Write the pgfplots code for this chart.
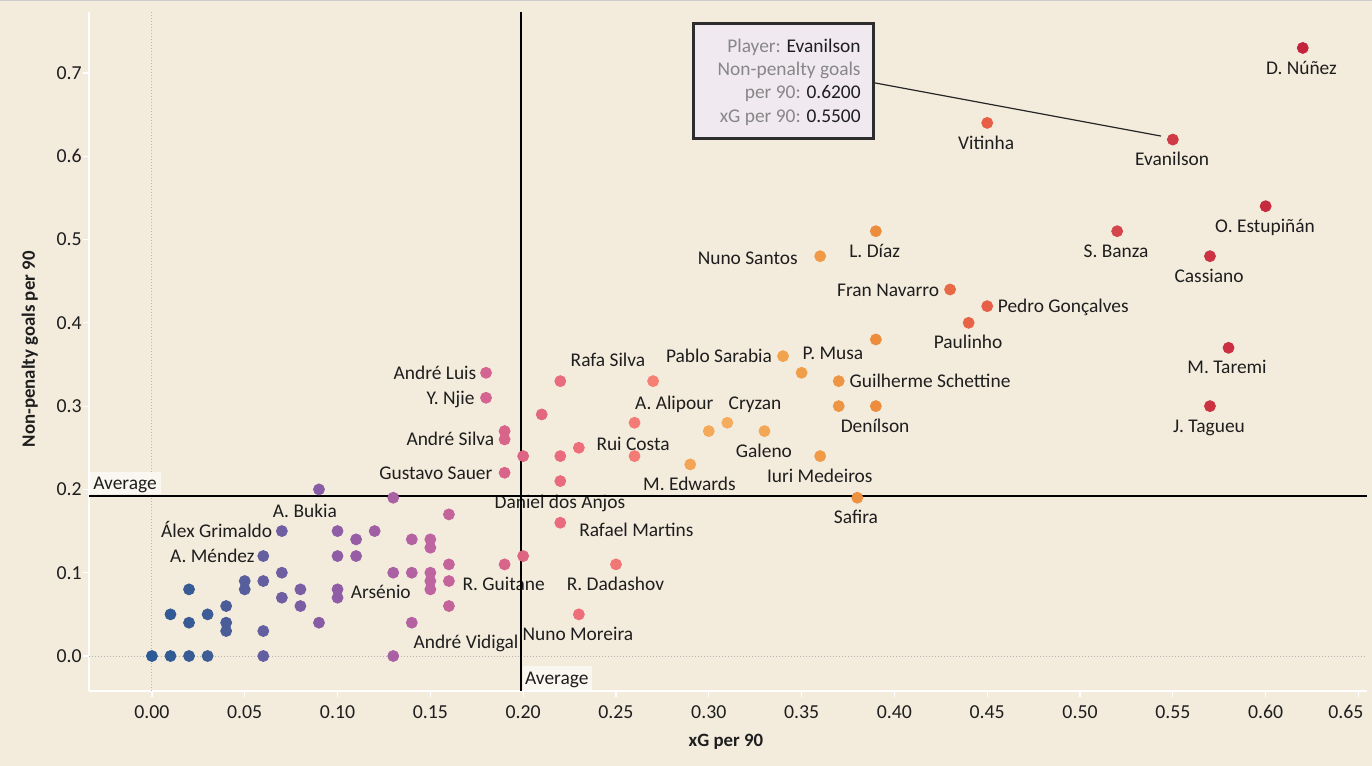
\documentclass[border=0pt]{standalone}
\usepackage{pgfplots}
\pgfplotsset{compat=1.18}
\usepackage{fontspec}
\setmainfont{Carlito}
\definecolor{bg}{RGB}{243,236,221}
\definecolor{txt}{RGB}{30,30,30}
\definecolor{tipfill}{RGB}{240,233,240}
\definecolor{tipborder}{RGB}{45,45,45}
\definecolor{tipgray}{RGB}{135,135,135}
\definecolor{avgbox}{RGB}{250,247,241}
\definecolor{zerogrid}{RGB}{185,180,180}
\pgfplotsset{
 colormap={tab}{
  rgb255(0cm)=(44,90,150)
  rgb255(3cm)=(62,92,150)
  rgb255(6cm)=(100,95,160)
  rgb255(9cm)=(135,92,165)
  rgb255(12cm)=(160,95,165)
  rgb255(15cm)=(190,100,160)
  rgb255(18cm)=(212,100,145)
  rgb255(20cm)=(222,100,132)
  rgb255(23cm)=(238,110,122)
  rgb255(27cm)=(245,128,115)
  rgb255(29cm)=(243,165,85)
  rgb255(31cm)=(245,172,92)
  rgb255(34cm)=(242,163,78)
  rgb255(39cm)=(236,140,60)
  rgb255(43cm)=(232,105,70)
  rgb255(45cm)=(230,95,70)
  rgb255(52cm)=(212,68,75)
  rgb255(62cm)=(195,35,60)
 }
}
\tikzset{
 lab/.style={font=\fontsize{9.7}{11}\selectfont, text=txt, inner sep=0pt, text height=6.4pt, text depth=0pt, anchor=center},
}
\pgfplotstableread{
x y
0 0
0.01 0
0.02 0
0.03 0
0.06 0
0.13 0
0.01 0.05
0.02 0.04
0.03 0.05
0.04 0.06
0.04 0.04
0.04 0.03
0.02 0.08
0.05 0.09
0.05 0.08
0.06 0.09
0.06 0.03
0.06 0.12
0.07 0.15
0.07 0.10
0.07 0.07
0.08 0.08
0.08 0.06
0.09 0.04
0.09 0.20
0.10 0.15
0.10 0.12
0.10 0.08
0.10 0.07
0.11 0.14
0.11 0.12
0.12 0.15
0.13 0.19
0.13 0.10
0.14 0.14
0.14 0.10
0.14 0.04
0.15 0.14
0.15 0.13
0.15 0.10
0.15 0.09
0.15 0.08
0.16 0.17
0.16 0.11
0.16 0.09
0.16 0.06
0.18 0.34
0.18 0.31
0.19 0.27
0.19 0.26
0.19 0.22
0.19 0.11
0.20 0.24
0.20 0.12
0.21 0.29
0.22 0.33
0.22 0.24
0.22 0.21
0.22 0.16
0.23 0.25
0.23 0.05
0.25 0.11
0.26 0.28
0.26 0.24
0.27 0.33
0.29 0.23
0.30 0.27
0.31 0.28
0.33 0.27
0.34 0.36
0.35 0.34
0.36 0.24
0.36 0.48
0.37 0.33
0.37 0.30
0.38 0.19
0.39 0.51
0.39 0.38
0.39 0.30
0.43 0.44
0.44 0.40
0.45 0.42
0.45 0.64
0.52 0.51
0.55 0.62
0.57 0.48
0.57 0.30
0.58 0.37
0.60 0.54
0.62 0.73
}\players
\begin{document}
\begin{tikzpicture}
\fill[bg] (-44.5pt,-37.5pt) rectangle (641.5pt,345.5pt);
\useasboundingbox (-44.5pt,-37.5pt) rectangle (641.5pt,345.5pt);
\draw[black!20, line width=1pt] (-44.5pt,345.5pt) -- (641.5pt,345.5pt);
\begin{axis}[
 at={(0,0)}, anchor=south west,
 scale only axis, width=639pt, height=339.65pt,
 xmin=-0.0339, xmax=0.6546, ymin=-0.042, ymax=0.7735,
 axis lines*=left,
 axis line style={white, line width=0.8pt},
 tick style={white, line width=0.6pt},
 tick align=outside, major tick length=3pt,
 xtick={0,0.05,0.1,0.15,0.2,0.25,0.3,0.35,0.4,0.45,0.5,0.55,0.6,0.65},
 xticklabels={0.00,0.05,0.10,0.15,0.20,0.25,0.30,0.35,0.40,0.45,0.50,0.55,0.60,{\makebox[0pt][r]{0.65\hspace{-2.5pt}}}},
 ytick={0,0.1,0.2,0.3,0.4,0.5,0.6,0.7},
 yticklabels={0.0,0.1,0.2,0.3,0.4,0.5,0.6,0.7},
 ticklabel style={font=\fontsize{9.9}{11}\selectfont, text=txt},
 xticklabel style={inner sep=0pt, text height=6.4pt, text depth=0pt, anchor=north, yshift=-4pt},
 yticklabel style={inner sep=0pt, anchor=east, xshift=-0.5pt},
 every axis x label/.style={at={(axis description cs:0.4984,0)}, anchor=center, yshift=-25.5pt},
 every axis y label/.style={at={(axis description cs:-0.04617,0.503)}, rotate=90, anchor=center},
 xlabel={xG per 90}, ylabel={Non-penalty goals per 90},
 label style={font=\bfseries\fontsize{9.4}{11}\selectfont, text=txt},
 clip=false,
]
% zero lines
\draw[zerogrid, densely dotted, line width=0.5pt] (axis cs:0,-0.042) -- (axis cs:0,0.7735);
\draw[zerogrid, densely dotted, line width=0.5pt] (axis cs:-0.0339,0) -- (axis cs:0.6546,0);
% labels
\node[lab] at (axis cs:0.6193,0.7055) {D. Núñez};
\node[lab] at (axis cs:0.4494,0.6162) {Vitinha};
\node[lab] at (axis cs:0.5496,0.5963) {Evanilson};
\node[lab] at (axis cs:0.5997,0.5162) {O. Estupiñán};
\node[lab] at (axis cs:0.5194,0.4866) {S. Banza};
\node[lab] at (axis cs:0.5695,0.4562) {Cassiano};
\node[lab] at (axis cs:0.3894,0.4866) {L. Díaz};
\node[lab] at (axis cs:0.3210,0.4774) {Nuno Santos};
\node[lab] at (axis cs:0.3966,0.4394) {Fran Navarro};
\node[lab] at (axis cs:0.4910,0.4202) {Pedro Gonçalves};
\node[lab] at (axis cs:0.4397,0.3773) {Paulinho};
\node[lab] at (axis cs:0.3669,0.3634) {P. Musa};
\node[lab] at (axis cs:0.3055,0.3601) {Pablo Sarabia};
\node[lab] at (axis cs:0.4192,0.3301) {Guilherme Schettine};
\node[lab] at (axis cs:0.5792,0.3473) {M. Taremi};
\node[lab] at (axis cs:0.5695,0.2761) {J. Tagueu};
\node[lab] at (axis cs:0.3896,0.2761) {Denílson};
\node[lab] at (axis cs:0.3249,0.3034) {Cryzan};
\node[lab] at (axis cs:0.2814,0.3034) {A. Alipour};
\node[lab] at (axis cs:0.2457,0.3553) {Rafa Silva};
\node[lab] at (axis cs:0.1525,0.3394) {André Luis};
\node[lab] at (axis cs:0.1609,0.3094) {Y. Njie};
\node[lab] at (axis cs:0.1608,0.2601) {André Silva};
\node[lab] at (axis cs:0.2592,0.2541) {Rui Costa};
\node[lab] at (axis cs:0.3297,0.2461) {Galeno};
\node[lab] at (axis cs:0.3598,0.2161) {Iuri Medeiros};
\node[lab] at (axis cs:0.2896,0.2065) {M. Edwards};
\node[lab] at (axis cs:0.1530,0.2193) {Gustavo Sauer};
\node[lab] at (axis cs:0.2198,0.1852) {Daniel dos Anjos};
\node[lab] at (axis cs:0.3793,0.1672) {Safira};
\node[lab] at (axis cs:0.2610,0.1513) {Rafael Martins};
\node[lab] at (axis cs:0.0824,0.1741) {A. Bukia};
\node[lab] at (axis cs:0.0349,0.1501) {Álex Grimaldo};
\node[lab] at (axis cs:0.0326,0.1200) {A. Méndez};
\node[lab] at (axis cs:0.1233,0.0765) {Arsénio};
\node[lab] at (axis cs:0.1895,0.0861) {R. Guitane};
\node[lab] at (axis cs:0.2497,0.0861) {R. Dadashov};
\node[lab] at (axis cs:0.2295,0.0261) {Nuno Moreira};
\node[lab] at (axis cs:0.1692,0.0172) {André Vidigal};
% average lines
\draw[black, line width=1pt] (axis cs:0.1988,-0.042) -- (axis cs:0.1988,0.7735);
\draw[black, line width=1pt] (axis cs:-0.0339,0.1925) -- (axis cs:0.6546,0.1925);
\fill[avgbox] (axis cs:-0.0336,0.1950) rectangle (axis cs:0.00485,0.2209);
\node[lab, anchor=west] at (axis cs:-0.0318,0.2077) {Average};
\fill[avgbox] (axis cs:0.2000,-0.0408) rectangle (axis cs:0.2371,-0.012);
\node[lab] at (axis cs:0.2181,-0.0264) {Average};
% points
\addplot[scatter, only marks, mark=*, mark size=2.75pt,
 point meta=x, point meta min=0, point meta max=0.62,
 scatter/use mapped color={draw=mapped color, fill=mapped color}]
 table {\players};
% tooltip
\draw[line width=0.6pt, black!85] (axis cs:0.389,0.6882) -- (axis cs:0.5436,0.6242);
\draw[line width=1.5pt, draw=tipborder, fill=tipfill] (axis cs:0.2915,0.6207) rectangle (axis cs:0.389,0.7599);
\node[lab, anchor=east] at (axis cs:0.382,0.7323) {\textcolor{tipgray}{Player:} Evanilson};
\node[lab, anchor=east] at (axis cs:0.382,0.7047) {\textcolor{tipgray}{Non-penalty goals}};
\node[lab, anchor=east] at (axis cs:0.382,0.6771) {\textcolor{tipgray}{per 90:} 0.6200};
\node[lab, anchor=east] at (axis cs:0.382,0.6483) {\textcolor{tipgray}{xG per 90:} 0.5500};
\end{axis}
\end{tikzpicture}
\end{document}
